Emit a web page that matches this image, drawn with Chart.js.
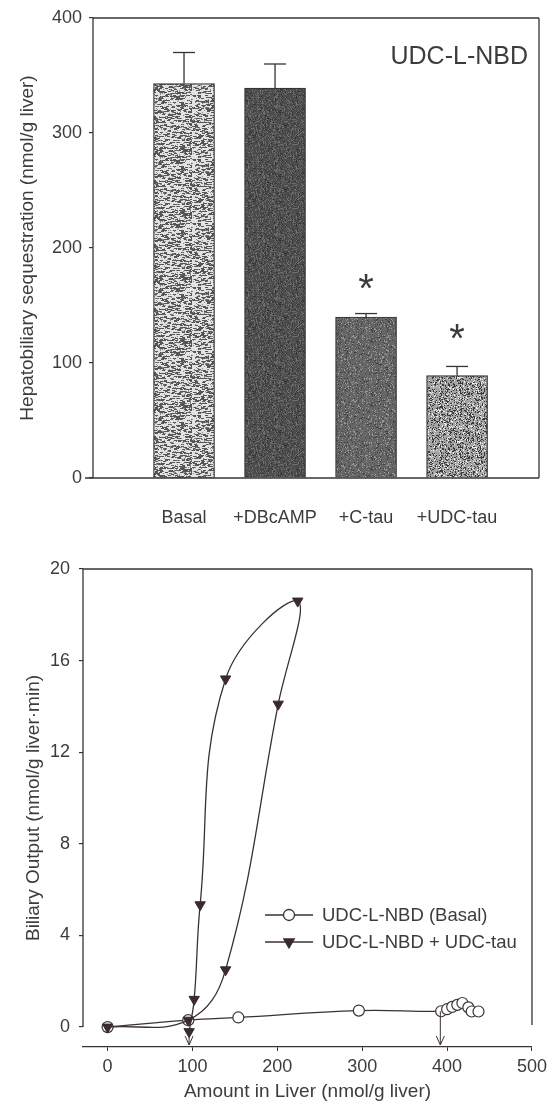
<!DOCTYPE html>
<html>
<head>
<meta charset="utf-8">
<script src="https://cdn.jsdelivr.net/npm/chart.js@4.4.1/dist/chart.umd.min.js"></script>
<style>
    html, body { margin: 0; padding: 0; background: #fff; }
    body { width: 552px; height: 1106px; position: relative; overflow: hidden; }
    .box { position: absolute; left: 0; width: 552px; }
    #top-box { top: 0; height: 530px; }
    #bottom-box { top: 530px; height: 576px; }
</style>
</head>
<body>
<div class="box" id="top-box"><canvas id="seq-chart"></canvas></div>
<div class="box" id="bottom-box"><canvas id="output-chart"></canvas></div>

<script>
// Top panel: hepatobiliary sequestration
const groups = ['Basal', '+DBcAMP', '+C-tau', '+UDC-tau'];
const sequestration = [343, 339, 140, 89];
const sequestrationErrTop = [370, 360, 143, 97];
const starLevel = [null, null, 172, 129];
const seqTicks = [0, 100, 200, 300, 400];

// Bottom panel: biliary output vs amount in liver
const basalX = [0, 95, 154, 296, 393, 400, 406, 412, 418, 425, 429, 437];
const basalY = [0, 0.3, 0.42, 0.72, 0.69, 0.78, 0.88, 0.97, 1.05, 0.86, 0.68, 0.68];
const udcX = [0, 95, 139, 201, 224, 139, 109, 102, 96];
const udcY = [0, 0.3, 2.5, 14.1, 18.6, 15.2, 5.34, 1.21, -0.2];
const arrowX = [96, 392];
const arrowFromY = [-0.1, 0.69];
const outputXTicks = [0, 100, 200, 300, 400, 500];
const outputYTicks = [0, 4, 8, 12, 16, 20];

const INK = '#3a3232';
const TEXT = '#3c3c3c';
const FONT = "'Liberation Sans', Arial, sans-serif";

// simple deterministic speckle texture for the bars
function hash(i, j, seed) {
    let h = (i * 374761393 + j * 668265263 + seed * 982451653) | 0;
    h = Math.imul(h ^ (h >>> 13), 1274126177);
    return ((h ^ (h >>> 16)) >>> 0) / 4294967296;
}

function makeTexture(ctx, bg, inks, seed) {
    const tile = document.createElement('canvas');
    tile.width = 64; tile.height = 64;
    const g = tile.getContext('2d');
    g.fillStyle = bg;
    g.fillRect(0, 0, 64, 64);
    inks.forEach(([color, density, dash], k) => {
        g.fillStyle = color;
        for (let y = 0; y < 64; y++) {
            for (let x = 0; x < 64; x++) {
                if (hash(x, y, seed + k * 17) < density) g.fillRect(x, y, dash, 1);
            }
        }
    });
    return ctx.createPattern(tile, 'repeat');
}

function frameLine(ctx, x1, y1, x2, y2) {
    ctx.beginPath();
    ctx.moveTo(x1, y1);
    ctx.lineTo(x2, y2);
    ctx.stroke();
}

// ---------- top chart ----------
const seqCtx = document.getElementById('seq-chart').getContext('2d');
const barFills = [
    makeTexture(seqCtx, '#e2e2e2', [['#555', 0.16, 3], ['#888', 0.1, 1]], 3),
    makeTexture(seqCtx, '#4c4c4c', [['#6e6e6e', 0.25, 1], ['#333', 0.1, 1]], 7),
    makeTexture(seqCtx, '#666', [['#9a9a9a', 0.12, 1], ['#444', 0.12, 1]], 11),
    makeTexture(seqCtx, '#a4a4a4', [['#3a3a3a', 0.28, 1], ['#eee', 0.12, 1]], 19)
];

const seqDecor = {
    id: 'seqDecor',
    afterDatasetsDraw(chart) {
        const { ctx, chartArea, scales: { x, y } } = chart;
        ctx.save();
        ctx.strokeStyle = INK;
        ctx.lineWidth = 1.3;

        // error bars (upper only)
        sequestrationErrTop.forEach((top, i) => {
            const px = x.getPixelForValue(i + 1);
            const y0 = y.getPixelForValue(sequestration[i]);
            const y1 = y.getPixelForValue(top);
            frameLine(ctx, px, y0, px, y1);
            frameLine(ctx, px - 11, y1, px + 11, y1);
        });

        // box
        frameLine(ctx, chartArea.left, chartArea.top, chartArea.right, chartArea.top);
        frameLine(ctx, chartArea.left, chartArea.top, chartArea.left, chartArea.bottom);
        frameLine(ctx, chartArea.right, chartArea.top, chartArea.right, chartArea.bottom);
        frameLine(ctx, chartArea.left - 8, chartArea.bottom, chartArea.right, chartArea.bottom);

        // significance marks
        ctx.fillStyle = TEXT;
        ctx.font = `40px ${FONT}`;
        ctx.textAlign = 'center';
        ctx.textBaseline = 'alphabetic';
        starLevel.forEach((lvl, i) => {
            if (lvl === null) return;
            ctx.fillText('*', x.getPixelForValue(i + 1), y.getPixelForValue(lvl) + 22);
        });

        ctx.font = `25px ${FONT}`;
        ctx.textAlign = 'right';
        ctx.textBaseline = 'middle';
        ctx.fillText('UDC-L-NBD', chartArea.right - 11, 57);
        ctx.restore();
    }
};

new Chart(seqCtx, {
    type: 'bar',
    data: {
        datasets: [{
            data: sequestration.map((v, i) => ({ x: i + 1, y: v })),
            backgroundColor: barFills,
            borderColor: INK,
            borderWidth: 1.2,
            barThickness: 61
        }]
    },
    options: {
        responsive: true,
        maintainAspectRatio: false,
        animation: false,
        layout: { padding: { top: 18, right: 13, left: 0, bottom: 0 } },
        plugins: { legend: { display: false }, tooltip: { enabled: false } },
        scales: {
            x: {
                type: 'linear',
                min: 0,
                max: 4.9,
                offset: false,
                border: { display: false },
                grid: { display: false },
                afterBuildTicks: s => { s.ticks = groups.map((g, i) => ({ value: i + 1 })); },
                afterFit: s => { s.height = 52; },
                ticks: {
                    autoSkip: false,
                    padding: 21,
                    color: TEXT,
                    font: { family: FONT, size: 18 },
                    callback: v => groups[v - 1]
                }
            },
            y: {
                min: 0,
                max: 400,
                border: { display: false },
                grid: { drawOnChartArea: false, tickLength: 4, color: INK, lineWidth: 1.2 },
                afterBuildTicks: s => { s.ticks = seqTicks.map(v => ({ value: v })); },
                afterFit: s => { s.width = 93; },
                ticks: { padding: 7, color: TEXT, font: { family: FONT, size: 18 } },
                title: {
                    display: true,
                    text: 'Hepatobiliary sequestration (nmol/g liver)',
                    color: TEXT,
                    font: { family: FONT, size: 19 },
                    padding: { top: 16, bottom: 0 }
                }
            }
        }
    },
    plugins: [seqDecor]
});

// ---------- bottom chart ----------
const outCtx = document.getElementById('output-chart').getContext('2d');

const outDecor = {
    id: 'outDecor',
    afterDatasetsDraw(chart) {
        const { ctx, chartArea, scales: { x, y } } = chart;
        ctx.save();
        ctx.strokeStyle = INK;
        ctx.lineWidth = 1.3;

        const top = y.getPixelForValue(20);
        const zero = y.getPixelForValue(0);
        const right = x.getPixelForValue(500);
        frameLine(ctx, chartArea.left, top, right, top);
        frameLine(ctx, chartArea.left, top, chartArea.left, zero);
        frameLine(ctx, right, top, right, zero - 2);

        // arrows down to the axis
        ctx.lineWidth = 1;
        arrowX.forEach((ax, i) => {
            const px = x.getPixelForValue(ax);
            const y0 = y.getPixelForValue(arrowFromY[i]);
            const y1 = chartArea.bottom - 2;
            frameLine(ctx, px, y0, px, y1);
            ctx.beginPath();
            ctx.moveTo(px - 4, y1 - 9);
            ctx.lineTo(px, y1);
            ctx.lineTo(px + 4, y1 - 9);
            ctx.stroke();
        });

        // legend
        const rows = [chart.data.datasets[1], chart.data.datasets[0]];
        ctx.font = `18.5px ${FONT}`;
        ctx.fillStyle = TEXT;
        ctx.textAlign = 'left';
        ctx.textBaseline = 'middle';
        rows.forEach((ds, i) => {
            const ly = 385 + i * 27;
            ctx.strokeStyle = INK;
            ctx.lineWidth = 1.3;
            frameLine(ctx, 265, ly, 313, ly);
            ctx.fillStyle = ds.pointBackgroundColor;
            ctx.strokeStyle = ds.pointBorderColor;
            Chart.helpers.drawPoint(ctx, {
                pointStyle: ds.pointStyle,
                rotation: ds.pointRotation,
                radius: ds.pointRadius,
                borderWidth: ds.pointBorderWidth
            }, 289, ly);
            ctx.fillStyle = TEXT;
            ctx.fillText(ds.label, 322, ly + 1);
        });
        ctx.restore();
    }
};

new Chart(outCtx, {
    type: 'scatter',
    data: {
        datasets: [
            {
                label: 'UDC-L-NBD + UDC-tau',
                data: udcX.map((v, i) => ({ x: v, y: udcY[i] })),
                showLine: true,
                tension: 0.4,
                borderColor: INK,
                borderWidth: 1.3,
                pointStyle: 'triangle',
                pointRotation: 180,
                pointRadius: 6,
                pointBorderWidth: 1,
                pointBackgroundColor: '#3a2a2e',
                pointBorderColor: '#3a2a2e'
            },
            {
                label: 'UDC-L-NBD (Basal)',
                data: basalX.map((v, i) => ({ x: v, y: basalY[i] })),
                showLine: true,
                tension: 0.4,
                borderColor: INK,
                borderWidth: 1.3,
                pointStyle: 'circle',
                pointRadius: 5.5,
                pointBorderWidth: 1.2,
                pointBackgroundColor: '#ffffff',
                pointBorderColor: INK
            }
        ]
    },
    options: {
        responsive: true,
        maintainAspectRatio: false,
        animation: false,
        layout: { padding: { top: 39, right: 15, left: 0, bottom: 0 } },
        plugins: { legend: { display: false }, tooltip: { enabled: false } },
        scales: {
            x: {
                type: 'linear',
                min: -29,
                max: 500,
                border: { display: true, color: INK, width: 1.3 },
                grid: { drawOnChartArea: false, tickLength: 4, color: INK, lineWidth: 1 },
                afterBuildTicks: s => { s.ticks = outputXTicks.map(v => ({ value: v })); },
                afterFit: s => { s.height = 59; },
                ticks: { padding: 5, color: TEXT, font: { family: FONT, size: 18 } },
                title: {
                    display: true,
                    text: 'Amount in Liver (nmol/g liver)',
                    color: TEXT,
                    font: { family: FONT, size: 19 },
                    padding: { top: 0, bottom: 3 }
                }
            },
            y: {
                min: -0.87,
                max: 20,
                border: { display: false },
                grid: { drawOnChartArea: false, tickLength: 4, color: INK, lineWidth: 1.2 },
                afterBuildTicks: s => { s.ticks = outputYTicks.map(v => ({ value: v })); },
                afterFit: s => { s.width = 83; },
                ticks: { padding: 9, color: TEXT, font: { family: FONT, size: 18 } },
                title: {
                    display: true,
                    text: 'Biliary Output (nmol/g liver·min)',
                    color: TEXT,
                    font: { family: FONT, size: 19 },
                    padding: { top: 22, bottom: 0 }
                }
            }
        }
    },
    plugins: [outDecor]
});
</script>
</body>
</html>
